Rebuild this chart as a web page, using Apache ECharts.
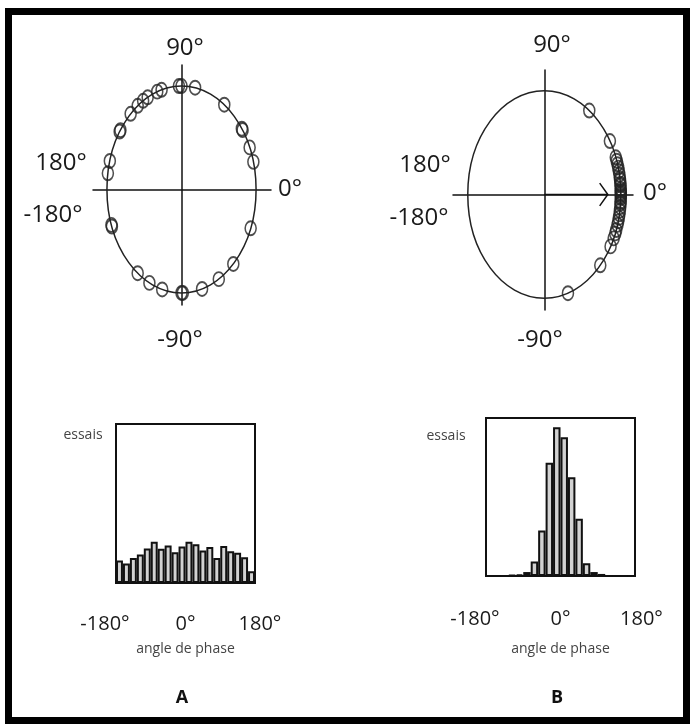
<!DOCTYPE html>
<html><head><meta charset="utf-8">
<script src="https://cdn.jsdelivr.net/npm/echarts@6/dist/echarts.min.js"></script>
<style>html,body{margin:0;padding:0;background:#fff}#c{width:694px;height:728px}</style>
</head><body><div id="c"></div>
<script>
// Phase angles (degrees) of individual trials
const anglesA = [92, 90, 79.5, 55, 36, 35, 24, 15.5, -22, -46, -60, -74, -90, -89, -105, -115.5, -126, -159, -160, 171, 164, 146, 145, 133, 126, 121, 117, 109, 105.5];
const anglesB = [54, 31, 21, 19, 17, 15, 13, 11, 9, 8, 6, 5, 3, 2, 1, 0, -1, -2, -4, -5, -7, -9, -11, -13, -15, -17, -20, -22, -25, -30, -43, -72];
// Mean vector of B (angle in degrees, length relative to unit circle)
const meanAngleB = 0;
const meanLengthB = 0.83;
// Histograms: 20 bins of 18 degrees from -180 to 180 (relative counts, box top = 100)
const binLabels = ['-180/-162','-162/-144','-144/-126','-126/-108','-108/-90','-90/-72','-72/-54','-54/-36','-36/-18','-18/0','0/18','18/36','36/54','54/72','72/90','90/108','108/126','126/144','144/162','162/180'];
const histA = [14.1, 12.2, 15.8, 17.9, 21.7, 25.9, 21.5, 23.6, 19.4, 23.0, 25.9, 24.3, 20.5, 22.6, 15.8, 23.2, 20.0, 19.0, 16.2, 7.4];
const histB = [0, 0, 0, 0.6, 1.0, 2.5, 9.1, 28.8, 71.6, 94.1, 87.8, 62.5, 36.2, 8.0, 2.5, 1.3, 0, 0, 0, 0];
const histTicks = [-180, 0, 180];

const chart = echarts.init(document.getElementById('c'), null, {renderer: 'canvas'});
const rad = d => d * Math.PI / 180;
const toXY = arr => arr.map(a => [Math.cos(rad(a)), Math.sin(rad(a))]);
const FONT = '"Open Sans", "DejaVu Sans", sans-serif';
const INK = '#1a1a1a';

function circleAxes(gi, xr, yr) {
  const axisLine = {show: true, onZero: true, lineStyle: {color: '#111', width: 1.5}};
  return {
    x: {type: 'value', gridIndex: gi, min: xr[0], max: xr[1], axisLine, axisTick: {show: false}, axisLabel: {show: false}, splitLine: {show: false}},
    y: {type: 'value', gridIndex: gi, min: yr[0], max: yr[1], axisLine, axisTick: {show: false}, axisLabel: {show: false}, splitLine: {show: false}}
  };
}
const cA = circleAxes(0, [-1.187, 1.2], [-1.116, 1.203]);
const cB = circleAxes(1, [-1.193, 1.159], [-1.113, 1.2]);

function histX(gi, rightPad, margin, nameGap) {
  return [
    {type: 'category', gridIndex: gi, data: binLabels, show: false},
    {type: 'value', gridIndex: gi, min: histTicks[0], max: histTicks[2], interval: 180, position: 'bottom',
     axisLine: {show: false}, axisTick: {show: false}, splitLine: {show: false},
     axisLabel: {show: true, margin: margin, fontFamily: FONT, fontSize: 20, color: INK,
       formatter: v => v === -180 ? '{l|-180°}' : (v === 180 ? '{r|180°}' : '{c|0°}'),
       rich: {
         l: {fontFamily: FONT, fontSize: 20, color: INK, padding: [0, 22, 0, 0]},
         r: {fontFamily: FONT, fontSize: 20, color: INK, padding: [0, 0, 0, rightPad]},
         c: {fontFamily: FONT, fontSize: 20, color: INK}
       }},
     name: 'angle de phase', nameLocation: 'middle', nameGap: nameGap,
     nameTextStyle: {fontFamily: FONT, fontSize: 14, color: '#444'}}
  ];
}
const hxA = histX(2, 10, 31, 59);
const hxB = histX(3, 13, 33, 66);

const ellipseRender = (params, api) => {
  const c = api.coord([0, 0]);
  const r = api.value(0);
  const s = api.size([r, r]);
  return {type: 'ellipse', shape: {cx: c[0], cy: c[1], rx: s[0], ry: s[1]},
    style: {fill: 'none', stroke: '#222', lineWidth: 1.5}};
};
const arrowRender = (params, api) => {
  const a = rad(api.value(0)), L = api.value(1);
  const o = api.coord([0, 0]);
  const t = api.coord([L * Math.cos(a), L * Math.sin(a)]);
  const ang = Math.atan2(t[1] - o[1], t[0] - o[0]);
  const hl = 14, spread = 0.95;
  const p1 = [t[0] - hl * Math.cos(ang - spread), t[1] - hl * Math.sin(ang - spread)];
  const p2 = [t[0] - hl * Math.cos(ang + spread), t[1] - hl * Math.sin(ang + spread)];
  return {type: 'group', children: [
    {type: 'line', shape: {x1: o[0], y1: o[1], x2: t[0], y2: t[1]}, style: {stroke: '#111', lineWidth: 1.5}},
    {type: 'polyline', shape: {points: [p1, t, p2]}, style: {stroke: '#111', lineWidth: 1.5, fill: 'none'}}
  ]};
};

const markerStyle = {color: 'rgba(0,0,0,0)', borderColor: '#222', borderWidth: 1.7};

function txt(x, y, s, size, opts) {
  return {type: 'text', x: x, y: y, z: 10, style: Object.assign({text: s, fontFamily: FONT, fontSize: size, fill: INK, align: 'center', verticalAlign: 'middle'}, opts || {})};
}

const option = {
  backgroundColor: '#ffffff',
  animation: false,
  grid: [
    {left: 93, top: 65, width: 178, height: 240, outerBoundsMode: 'none'},
    {left: 453, top: 70, width: 180, height: 240, outerBoundsMode: 'none'},
    {left: 116, top: 424, width: 139, height: 159, show: true, borderColor: '#111', borderWidth: 2, backgroundColor: 'transparent', outerBoundsMode: 'none'},
    {left: 486, top: 418, width: 149, height: 158, show: true, borderColor: '#111', borderWidth: 2, backgroundColor: 'transparent', outerBoundsMode: 'none'}
  ],
  xAxis: [cA.x, cB.x, hxA[0], hxA[1], hxB[0], hxB[1]],
  yAxis: [cA.y, cB.y,
    {type: 'value', gridIndex: 2, min: 0, max: 100, show: false},
    {type: 'value', gridIndex: 3, min: 0, max: 100, show: false}],
  series: [
    {type: 'custom', xAxisIndex: 0, yAxisIndex: 0, data: [[1]], renderItem: ellipseRender, silent: true, z: 1},
    {type: 'scatter', xAxisIndex: 0, yAxisIndex: 0, data: toXY(anglesA), symbol: 'circle', symbolSize: [11, 14], itemStyle: markerStyle, z: 3},
    {type: 'custom', xAxisIndex: 1, yAxisIndex: 1, data: [[1]], renderItem: ellipseRender, silent: true, z: 1},
    {type: 'custom', xAxisIndex: 1, yAxisIndex: 1, data: [[meanAngleB, meanLengthB]], renderItem: arrowRender, silent: true, z: 2},
    {type: 'scatter', xAxisIndex: 1, yAxisIndex: 1, data: toXY(anglesB), symbol: 'circle', symbolSize: [11, 14], itemStyle: markerStyle, z: 3},
    {type: 'bar', xAxisIndex: 2, yAxisIndex: 2, data: histA, barCategoryGap: '0%', barGap: '0%',
     itemStyle: {color: '#d2d2d2', borderColor: '#111', borderWidth: 2}},
    {type: 'bar', xAxisIndex: 4, yAxisIndex: 3, data: histB, barCategoryGap: '0%', barGap: '0%',
     itemStyle: {color: '#d2d2d2', borderColor: '#111', borderWidth: 2}}
  ],
  graphic: [
    {type: 'rect', shape: {x: 8.5, y: 11.5, width: 678, height: 709}, style: {fill: 'none', stroke: '#000', lineWidth: 7}, z: 20},
    txt(185, 48, '90°', 24), txt(61, 163, '180°', 24), txt(53, 215, '-180°', 24), txt(290, 189, '0°', 24), txt(180, 340, '-90°', 24),
    txt(552, 45, '90°', 24), txt(425, 165, '180°', 24), txt(419, 218, '-180°', 24), txt(655, 193, '0°', 24), txt(540, 340, '-90°', 24),
    txt(83, 435, 'essais', 14, {fill: '#444'}), txt(446, 436, 'essais', 14, {fill: '#444'}),
    txt(182, 698, 'A', 18, {fontWeight: 'bold', fill: '#111'}), txt(557, 698, 'B', 18, {fontWeight: 'bold', fill: '#111'})
  ]
};
chart.setOption(option);
</script></body></html>
